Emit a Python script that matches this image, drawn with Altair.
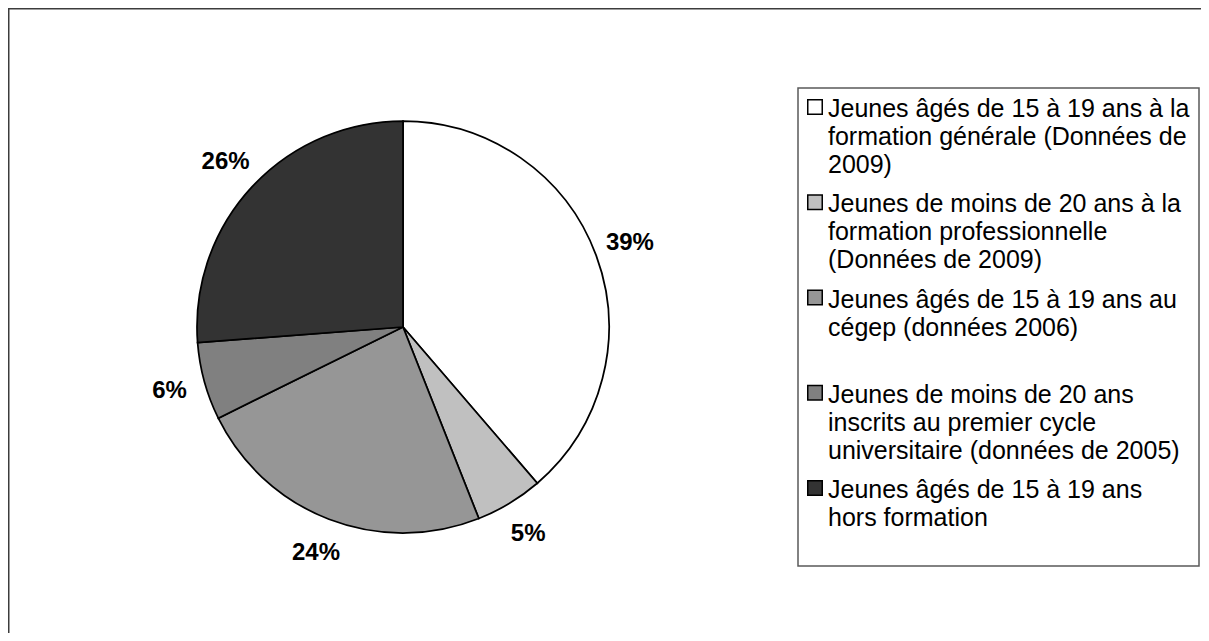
import altair as alt
import pandas as pd

FONT = "Liberation Sans"

categories = [
    "Jeunes âgés de 15 à 19 ans à la\nformation générale (Données de\n2009)",
    "Jeunes de moins de 20 ans à la\nformation professionnelle\n(Données de 2009)",
    "Jeunes âgés de 15 à 19 ans au\ncégep (données 2006)",
    "Jeunes de moins de 20 ans\ninscrits au premier cycle\nuniversitaire (données de 2005)",
    "Jeunes âgés de 15 à 19 ans\nhors formation",
]
shares = [38.7, 5.3, 23.7, 6.1, 26.2]
pct_labels = ["39%", "5%", "24%", "6%", "26%"]
fills = ["#ffffff", "#c0c0c0", "#969696", "#808080", "#333333"]

df = pd.DataFrame({
    "cat": categories,
    "share": shares,
    "pct": pct_labels,
    "idx": list(range(len(categories))),
})

color_scale = alt.Scale(domain=categories, range=fills)
base = alt.Chart(df)

cx, cy = 395, 319

pie = base.mark_arc(outerRadius=206, stroke="black", strokeWidth=1.75).encode(
    theta=alt.Theta("share:Q", stack=True),
    color=alt.Color("cat:N", scale=color_scale, legend=None),
    order=alt.Order("idx:Q"),
    x=alt.value(cx),
    y=alt.value(cy),
)

labels = base.mark_text(
    radius=242, fontSize=24, fontWeight="bold", font=FONT, color="black"
).encode(
    theta=alt.Theta("share:Q", stack=True),
    order=alt.Order("idx:Q"),
    text="pct:N",
    x=alt.value(cx),
    y=alt.value(cy),
)

yscale = alt.Scale(type="point", domain=categories, range=[109, 490], padding=0)

leg_text = base.mark_text(
    align="left", baseline="alphabetic", lineBreak="\n",
    fontSize=25, lineHeight=28, font=FONT, color="black"
).encode(
    x=alt.value(820),
    y=alt.Y("cat:N", scale=yscale, axis=None),
    text="cat:N",
)

leg_sw = base.mark_square(
    size=210, stroke="black", strokeWidth=1.5, opacity=1, yOffset=-10
).encode(
    x=alt.value(807),
    y=alt.Y("cat:N", scale=yscale, axis=None),
    color=alt.Color("cat:N", scale=color_scale, legend=None),
)

one = alt.Chart(pd.DataFrame({"k": [0]}))
leg_box = one.mark_rect(filled=False, stroke="#5a5a5a", strokeWidth=1.5).encode(
    x=alt.value(790), x2=alt.value(1191), y=alt.value(80), y2=alt.value(558)
)
frame_left = one.mark_rule(stroke="#3c3c3c", strokeWidth=3).encode(
    x=alt.value(0), y=alt.value(0), y2=alt.value(800)
)
frame_top = one.mark_rule(stroke="#3c3c3c", strokeWidth=3).encode(
    x=alt.value(0), x2=alt.value(1400), y=alt.value(0)
)

chart = alt.layer(
    pie, labels, leg_box, leg_sw, leg_text, frame_left, frame_top
).properties(
    width=1193, height=625, padding=0,
    autosize=alt.AutoSizeParams(type="none"),
    background="white",
).configure_view(strokeWidth=0)

chart.save("out.html", embed_options={"renderer": "svg", "actions": False})
